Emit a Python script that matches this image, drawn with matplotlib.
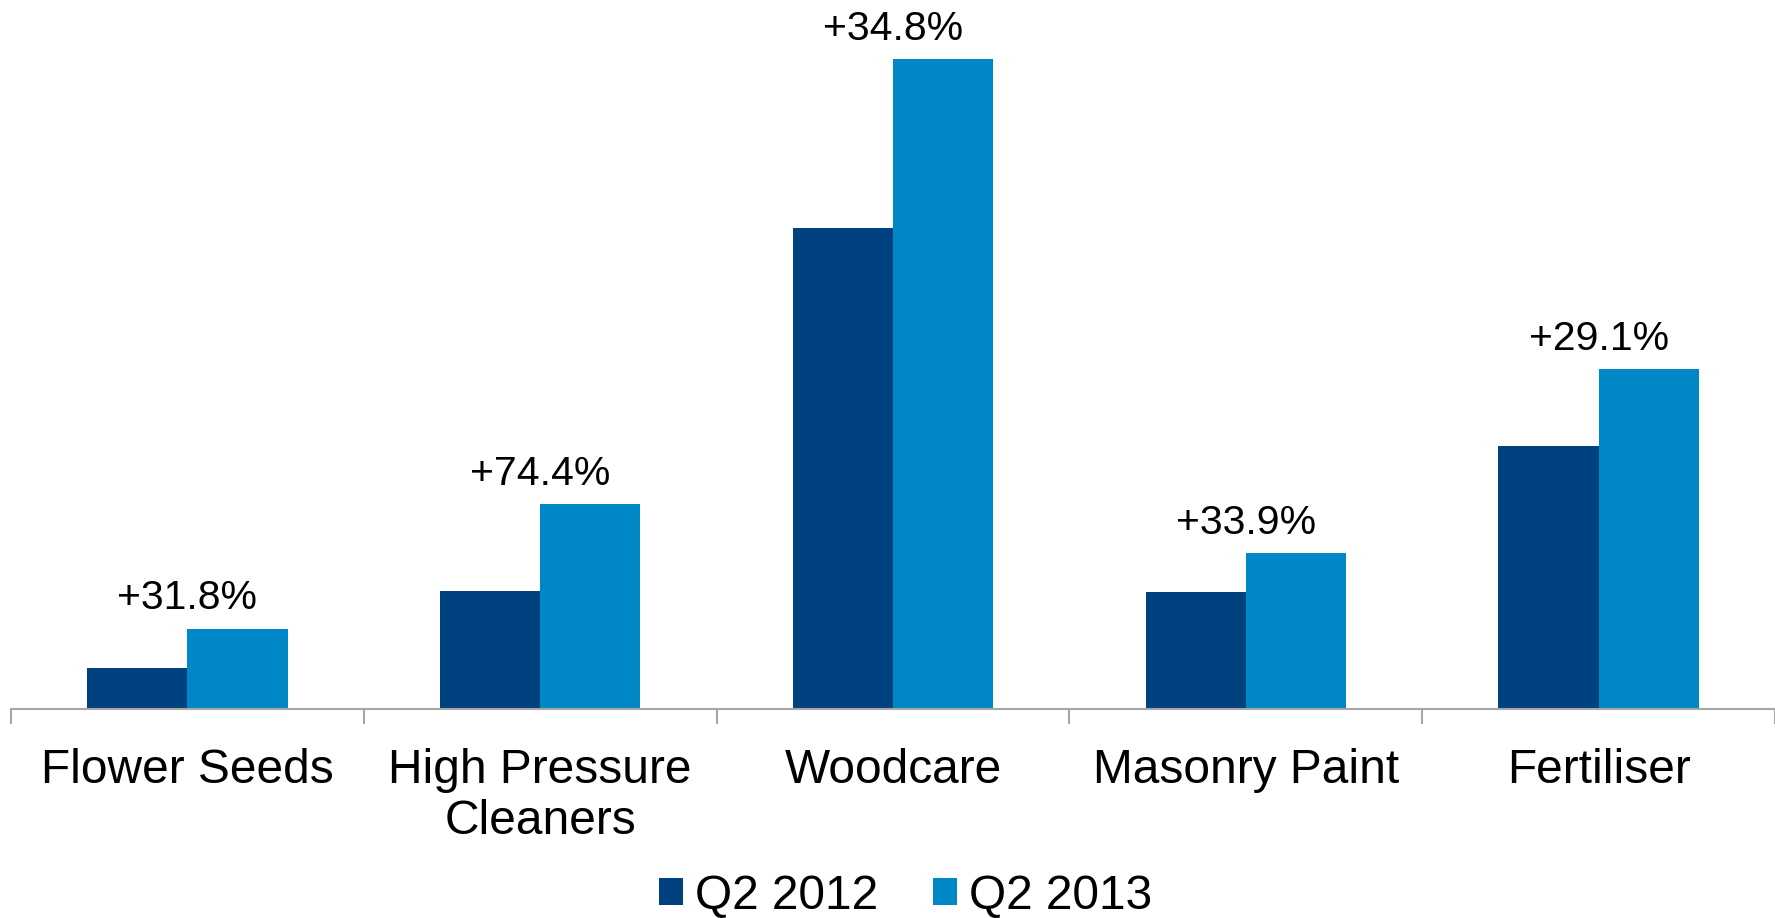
import matplotlib
matplotlib.use("Agg")
import matplotlib.pyplot as plt
import numpy as np
from matplotlib.patches import Patch

plt.rcParams['font.family'] = ['Liberation Sans', 'DejaVu Sans']

categories = ["Flower Seeds", "High Pressure\nCleaners", "Woodcare", "Masonry Paint", "Fertiliser"]
q2_2012 = [36, 104, 425, 103, 232]
q2_2013 = [71, 181, 574, 138, 300]
growth_labels = ["+31.8%", "+74.4%", "+34.8%", "+33.9%", "+29.1%"]
series_names = ["Q2 2012", "Q2 2013"]

c_dark = "#00417F"
c_light = "#0087C7"

fig = plt.figure(figsize=(17.75, 9.18), dpi=100)
ax = fig.add_axes([11/1775, 1 - 709/918, 1 - 11/1775, 709/918])

x = np.arange(len(categories))
w = 0.284
ax.bar(x - w/2, q2_2012, width=w, color=c_dark)
ax.bar(x + w/2, q2_2013, width=w, color=c_light)

for xi, v, lab in zip(x, q2_2013, growth_labels):
    ax.annotate(lab, (xi, v), xytext=(0, 8), textcoords="offset points",
                ha="center", va="bottom", fontsize=29.5)

ax.set_xlim(-0.5, len(categories) - 0.5)
ax.set_ylim(0, 626)
ax.set_yticks([])
for s in ["top", "right", "left"]:
    ax.spines[s].set_visible(False)
ax.spines["bottom"].set_color("#A6A6A6")
ax.spines["bottom"].set_linewidth(1.5)

ax.set_xticks(x)
ax.set_xticklabels(categories, fontsize=34.5, linespacing=1.17)
ax.tick_params(axis="x", which="major", length=0, pad=28)
ax.set_xticks(np.arange(-0.5, len(categories), 1.0), minor=True)
ax.tick_params(axis="x", which="minor", length=11, width=1.5, color="#A6A6A6")

handles = [Patch(facecolor=c_dark), Patch(facecolor=c_light)]
fig.legend(handles, series_names, loc="center", bbox_to_anchor=(906/1775, 1 - 896/918),
           ncol=2, frameon=False, fontsize=34.5, handlelength=0.5, handleheight=0.5,
           handletextpad=0.25, columnspacing=1.15, borderpad=0)

fig.savefig("out.png", dpi=100)
